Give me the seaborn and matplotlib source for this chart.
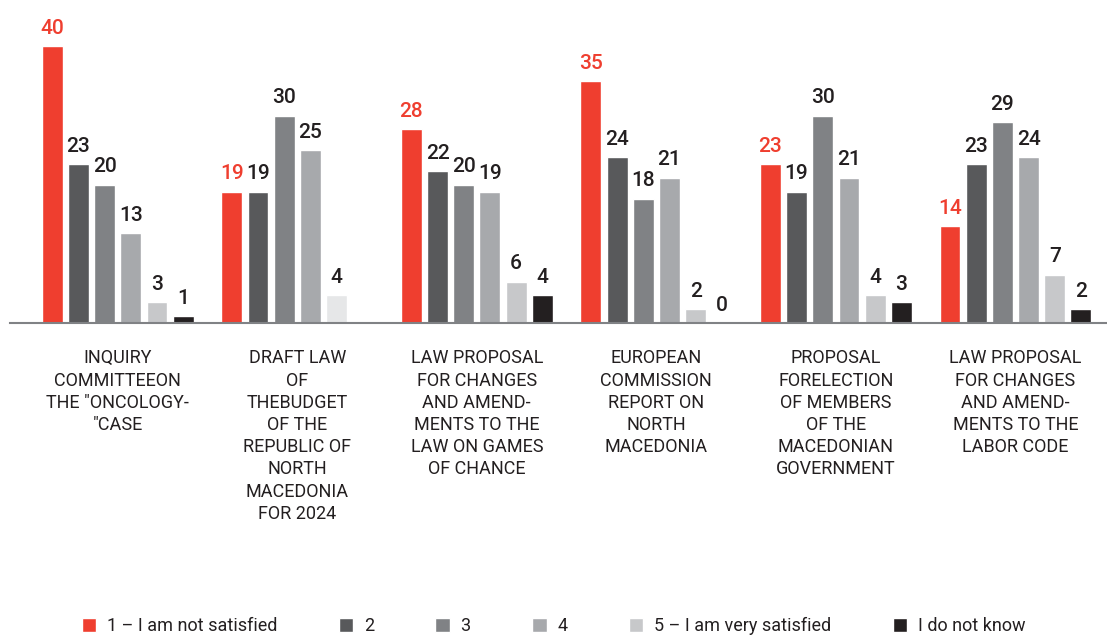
import pandas as pd
import seaborn as sns
import matplotlib.pyplot as plt

topics = [
    'INQUIRY\nCOMMITTEEON\nTHE "ONCOLOGY-\n"CASE',
    'DRAFT LAW\nOF\nTHEBUDGET\nOF THE\nREPUBLIC OF\nNORTH\nMACEDONIA\nFOR 2024',
    'LAW PROPOSAL\nFOR CHANGES\nAND AMEND-\nMENTS TO THE\nLAW ON GAMES\nOF CHANCE',
    'EUROPEAN\nCOMMISSION\nREPORT ON\nNORTH\nMACEDONIA',
    'PROPOSAL\nFORELECTION\nOF MEMBERS\nOF THE\nMACEDONIAN\nGOVERNMENT',
    'LAW PROPOSAL\nFOR CHANGES\nAND AMEND-\nMENTS TO THE\nLABOR CODE',
]
answers = ['1 – I am not satisfied', '2', '3', '4', '5 – I am very satisfied', 'I do not know']

not_satisfied = [40, 19, 28, 35, 23, 14]
score_2 = [23, 19, 22, 24, 19, 23]
score_3 = [20, 30, 20, 18, 30, 29]
score_4 = [13, 25, 19, 21, 21, 24]
very_satisfied = [3, 4, 6, 2, 4, 7]
do_not_know = [1, None, 4, 0, 3, 2]

colors = ['#ef3e2f', '#58595b', '#808285', '#a7a9ac', '#c7c8ca', '#231f20']
dark = '#231f20'

series = [not_satisfied, score_2, score_3, score_4, very_satisfied, do_not_know]
rows = []
for ans, vals in zip(answers, series):
    for t, v in zip(topics, vals):
        rows.append({'topic': t, 'answer': ans, 'value': v})
df = pd.DataFrame(rows).dropna()

sns.set_style("white")
plt.rcParams['font.family'] = ['Roboto', 'DejaVu Sans']

fig = plt.figure(figsize=(11.07, 6.37), dpi=100)
ax = fig.add_axes([10 / 1107, 1 - 323 / 637, 1 - 10 / 1107, 323 / 637])

sns.barplot(data=df, x='topic', y='value', hue='answer', order=topics, hue_order=answers,
            palette=colors, width=0.875, gap=0.2, errorbar=None, saturation=1, ax=ax)

# the draft budget law only has a very light "5" bar
ax.containers[4].patches[1].set_facecolor('#e6e7e8')

for i, cont in enumerate(ax.containers):
    ax.bar_label(cont, fmt='%d', padding=6, fontsize=15, fontweight='medium',
                 color=colors[0] if i == 0 else dark)

handles, labels = ax.get_legend_handles_labels()
ax.get_legend().remove()

ax.set_ylim(0, 46.7)
ax.set_xlim(-0.6, 5.51)
ax.set_xlabel('')
ax.set_ylabel('')
ax.set_yticks([])
for s in ['top', 'left', 'right']:
    ax.spines[s].set_visible(False)
ax.spines['bottom'].set_color('#808285')
ax.spines['bottom'].set_linewidth(1.5)
ax.tick_params(axis='x', length=0, pad=19)
for lab in ax.get_xticklabels():
    lab.set_fontsize(13)
    lab.set_color(dark)
    lab.set_linespacing(1.3)

fig.legend(handles, labels, loc='center', bbox_to_anchor=(0.5, 1 - 626 / 637), ncol=6,
           frameon=False, fontsize=13, handlelength=0.8, handleheight=0.8,
           handletextpad=0.6, columnspacing=3.4, labelcolor=dark)

fig.savefig('out.png', dpi=100)
